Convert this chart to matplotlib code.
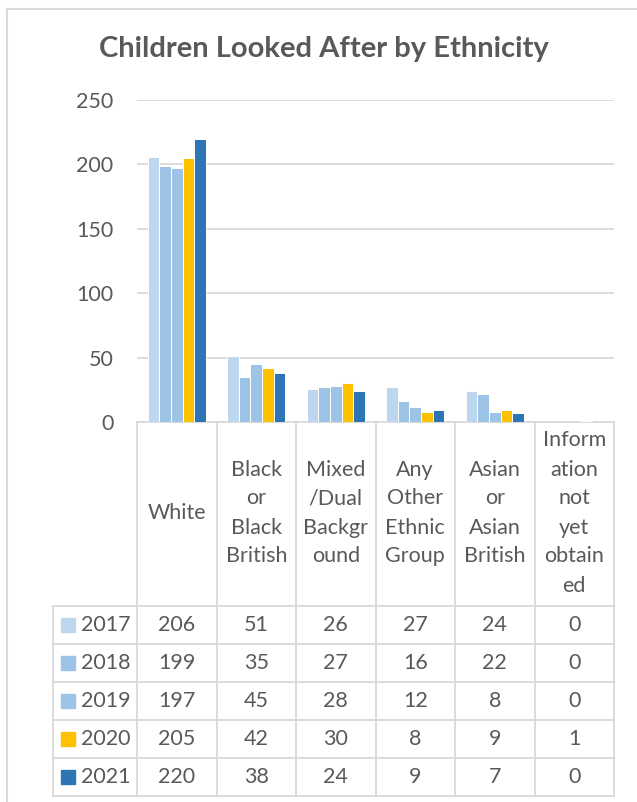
import numpy as np
import matplotlib
matplotlib.use("Agg")
import matplotlib.pyplot as plt
from matplotlib.patches import Rectangle

plt.rcParams['font.family'] = ['Lato', 'DejaVu Sans']

# data
categories = ["White", "Black\nor\nBlack\nBritish", "Mixed\n/Dual\nBackgr\nound",
              "Any\nOther\nEthnic\nGroup", "Asian\nor\nAsian\nBritish",
              "Inform\nation\nnot\nyet\nobtain\ned"]
years = ["2017", "2018", "2019", "2020", "2021"]
v2017 = [206, 51, 26, 27, 24, 0]
v2018 = [199, 35, 27, 16, 22, 0]
v2019 = [197, 45, 28, 12, 8, 0]
v2020 = [205, 42, 30, 8, 9, 1]
v2021 = [220, 38, 24, 9, 7, 0]
series = [v2017, v2018, v2019, v2020, v2021]
colors = ["#BDD7EE", "#9DC3E6", "#9DC3E6", "#FFC000", "#2E75B6"]
yticks = [0, 50, 100, 150, 200, 250]

W, H = 637, 802
TXT = "#595959"
GRID = "#D9D9D9"

fig = plt.figure(figsize=(W / 100, H / 100), dpi=100)

# plot area in pixels
x0, x1 = 137, 614
y_top, y_bot = 100, 422
ax = fig.add_axes([x0 / W, 1 - y_bot / H, (x1 - x0) / W, (y_bot - y_top) / H])
n = len(categories)
ax.set_xlim(0, n)
ax.set_ylim(0, 250)
bw = 0.146
for j, vals in enumerate(series):
    xs = np.arange(n) + 0.5 + (j - 2) * bw
    ax.bar(xs, vals, width=bw, color=colors[j], edgecolor="white", linewidth=0.7, zorder=3)
ax.set_yticks(yticks)
ax.set_xticks([])
ax.yaxis.grid(True, color=GRID, linewidth=1.3, zorder=0)
ax.tick_params(axis='y', length=0, labelsize=15.5, labelcolor=TXT, pad=17)
for s in ["top", "right", "left"]:
    ax.spines[s].set_visible(False)
ax.spines["bottom"].set_color(GRID)
ax.spines["bottom"].set_linewidth(1.3)
ax.patch.set_visible(False)

# overlay in pixel coordinates for title, frame and data table
ov = fig.add_axes([0, 0, 1, 1])
ov.set_xlim(0, W)
ov.set_ylim(H, 0)
ov.axis("off")
ov.patch.set_visible(False)

# outer chart frame
ov.plot([7, 7, W], [H, 9, 9], color=GRID, lw=1.5, solid_capstyle="butt")

ov.text(324, 49, "Children Looked After by Ethnicity", ha="center", va="center",
        fontsize=21, fontweight="bold", color=TXT)

# table
cw = (x1 - x0) / n
leg_x = 53
head_bot = 606
row_h = 38
nrow = len(years)
tab_bot = head_bot + nrow * row_h
lw = 1.3
# vertical lines
for i in range(n + 1):
    ov.plot([x0 + i * cw] * 2, [y_bot, tab_bot], color=GRID, lw=lw)
ov.plot([leg_x, leg_x], [head_bot, tab_bot], color=GRID, lw=lw)
# horizontal lines
for r in range(nrow + 1):
    ov.plot([leg_x, x1], [head_bot + r * row_h] * 2, color=GRID, lw=lw)

# header labels
for i, cat in enumerate(categories):
    lines = cat.split("\n")
    cx = x0 + (i + 0.5) * cw
    for k, ln in enumerate(lines):
        yy = 513 + (k - (len(lines) - 1) / 2) * 29
        ov.text(cx, yy, ln, ha="center", va="center", fontsize=15.5, color=TXT)

# rows
for r, (yr, vals) in enumerate(zip(years, series)):
    cy = head_bot + (r + 0.5) * row_h
    ov.add_patch(Rectangle((61, cy - 7), 14, 14, color=colors[r]))
    ov.text(81, cy, yr, ha="left", va="center", fontsize=15.5, color=TXT)
    for i, v in enumerate(vals):
        ov.text(x0 + (i + 0.5) * cw, cy, str(v), ha="center", va="center",
                fontsize=15.5, color=TXT)

fig.savefig("out.png", dpi=100, facecolor="white")
